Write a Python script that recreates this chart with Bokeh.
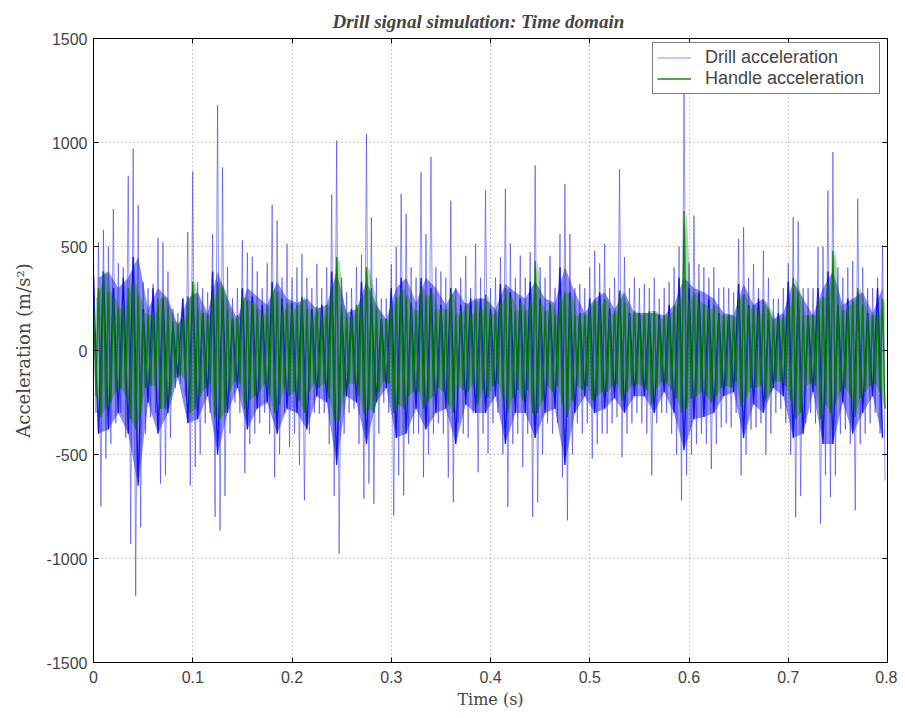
from bokeh.plotting import figure
from bokeh.models import LinearAxis, FixedTicker, Legend, LegendItem, Range1d
from bokeh.embed import file_html
from bokeh.resources import INLINE

# Envelope of each signal in 0.005 s bins (peak / trough)
drill_hi = [450, 520, 580, 500, 680, 420, 400, 840, 970, 700,
            330, 300, 320, 540, 520, 380, 200, 180, 250, 570,
            860, 330, 300, 280, 560, 1180, 880, 400, 250, 300,
            530, 470, 450, 380, 300, 420, 700, 625, 350, 513,
            350, 400, 465, 350, 300, 417, 300, 400, 750, 1010,
            350, 280, 300, 400, 460, 1042, 640, 350, 250, 250,
            415, 500, 753, 657, 400, 350, 857, 560, 930, 400,
            380, 350, 720, 300, 350, 455, 300, 513, 350, 770,
            300, 350, 450, 777, 515, 350, 457, 350, 473, 890,
            400, 350, 455, 300, 560, 800, 560, 300, 320, 300,
            400, 480, 420, 513, 300, 350, 873, 449, 300, 350,
            300, 320, 300, 350, 250, 300, 330, 400, 500, 1250,
            420, 649, 416, 400, 350, 400, 300, 304, 300, 280,
            537, 593, 350, 416, 300, 480, 350, 250, 250, 300,
            420, 641, 620, 300, 300, 300, 497, 500, 769, 954,
            400, 350, 400, 430, 729, 400, 300, 300, 350, 505]
drill_lo = [-300, -750, -520, -450, -350, -300, -420, -930, -1180, -850,
            -400, -320, -300, -640, -600, -420, -180, -160, -220, -650,
            -560, -500, -350, -300, -800, -865, -700, -400, -250, -300,
            -590, -450, -400, -350, -300, -400, -610, -500, -300, -465,
            -400, -550, -720, -400, -300, -304, -300, -450, -700, -977,
            -400, -300, -280, -450, -713, -640, -737, -400, -250, -300,
            -793, -600, -697, -450, -400, -400, -610, -500, -400, -350,
            -400, -610, -730, -350, -400, -420, -300, -585, -400, -497,
            -350, -300, -500, -753, -450, -400, -560, -400, -800, -730,
            -500, -350, -400, -350, -610, -817, -500, -350, -400, -350,
            -520, -450, -400, -400, -350, -320, -513, -400, -350, -300,
            -350, -400, -600, -350, -300, -300, -400, -500, -721, -600,
            -500, -450, -400, -450, -570, -450, -370, -350, -370, -300,
            -600, -500, -380, -370, -350, -500, -400, -300, -280, -350,
            -500, -801, -700, -350, -300, -350, -833, -600, -705, -600,
            -400, -380, -450, -769, -450, -400, -350, -300, -400, -625]
# Dense (dark) core of the drill signal, 0.01 s bins
drill_core_hi = [350, 380, 300, 350, 450, 200, 300, 250, 120, 250,
                 280, 180, 380, 250, 150, 300, 260, 220, 330, 250,
                 230, 250, 200, 220, 380, 180, 200, 330, 220, 150,
                 300, 350, 230, 350, 300, 220, 300, 220, 250, 250,
                 200, 320, 280, 250, 330, 250, 230, 400, 280, 180,
                 250, 280, 200, 280, 180, 180, 180, 170, 220, 350,
                 300, 280, 250, 180, 170, 320, 220, 250, 150, 180,
                 330, 250, 170, 300, 380, 220, 250, 280, 180, 300]
drill_core_lo = [-400, -380, -300, -400, -650, -250, -400, -300, -130, -350,
                 -330, -220, -500, -300, -180, -380, -280, -250, -400, -280,
                 -300, -380, -220, -250, -550, -220, -250, -450, -250, -180,
                 -420, -400, -280, -380, -300, -280, -450, -260, -300, -300,
                 -220, -450, -300, -300, -420, -300, -280, -550, -300, -220,
                 -300, -280, -230, -300, -220, -220, -300, -200, -300, -480,
                 -330, -320, -300, -220, -200, -420, -260, -300, -180, -220,
                 -420, -400, -200, -450, -450, -250, -400, -300, -220, -420]
handle_hi = [250, 300, 380, 280, 250, 200, 220, 300, 330, 260,
             180, 170, 180, 250, 260, 200, 140, 130, 150, 260,
             330, 200, 180, 170, 260, 330, 300, 200, 150, 170,
             260, 240, 230, 200, 170, 220, 300, 280, 190, 230,
             200, 220, 260, 200, 170, 210, 170, 220, 330, 450,
             220, 160, 170, 220, 270, 400, 300, 200, 150, 150,
             230, 260, 300, 260, 200, 190, 300, 260, 280, 200,
             200, 200, 280, 170, 190, 230, 170, 240, 190, 270,
             170, 190, 230, 300, 250, 190, 230, 190, 240, 430,
             220, 190, 230, 170, 260, 280, 260, 170, 180, 170,
             220, 240, 220, 250, 170, 190, 290, 230, 170, 190,
             170, 180, 190, 190, 150, 170, 180, 220, 260, 670,
             240, 280, 230, 220, 200, 220, 170, 170, 170, 160,
             260, 270, 200, 220, 170, 240, 200, 150, 150, 170,
             220, 350, 280, 170, 170, 170, 250, 260, 330, 480,
             220, 190, 220, 240, 300, 220, 170, 170, 190, 250]
handle_lo = [-220, -320, -280, -250, -200, -180, -220, -330, -380, -300,
             -180, -170, -170, -280, -280, -220, -130, -120, -140, -300,
             -280, -220, -180, -160, -320, -330, -300, -200, -150, -160,
             -280, -240, -220, -200, -160, -220, -300, -260, -180, -220,
             -200, -240, -300, -200, -160, -180, -160, -230, -330, -340,
             -220, -160, -160, -220, -300, -280, -300, -200, -150, -160,
             -300, -260, -280, -220, -200, -200, -280, -240, -220, -180,
             -200, -260, -300, -170, -190, -200, -160, -260, -190, -230,
             -170, -160, -230, -300, -230, -190, -240, -190, -300, -300,
             -240, -170, -200, -170, -260, -320, -240, -170, -190, -170,
             -240, -220, -200, -200, -170, -160, -240, -200, -170, -160,
             -170, -190, -260, -180, -150, -160, -190, -230, -300, -280,
             -230, -220, -200, -220, -250, -220, -180, -170, -180, -150,
             -270, -230, -180, -180, -170, -240, -200, -150, -150, -170,
             -240, -330, -300, -170, -160, -170, -330, -260, -300, -260,
             -200, -180, -220, -320, -230, -200, -170, -160, -200, -280]

t_end = 0.8
x_ticks = [0, 0.1, 0.2, 0.3, 0.4, 0.5, 0.6, 0.7, 0.8]
x_labels = ["0", "0.1", "0.2", "0.3", "0.4", "0.5", "0.6", "0.7", "0.8"]
y_ticks = [-1500, -1000, -500, 0, 500, 1000, 1500]
y_labels = ["-1500", "-1000", "-500", "0", "500", "1000", "1500"]


def zigzag(hi, lo):
    dt = t_end / len(hi)
    xs, ys = [], []
    for i, (a, b) in enumerate(zip(hi, lo)):
        xs += [i * dt, i * dt + dt / 2]
        ys += [a, b]
    return xs, ys


def centers(vals):
    dt = t_end / len(vals)
    return [(i + 0.5) * dt for i in range(len(vals))]


dx, dy = zigzag(drill_hi, drill_lo)
cx, cy = zigzag(drill_core_hi, drill_core_lo)
hx, hy = zigzag(handle_hi, handle_lo)

p = figure(frame_width=794, frame_height=624, output_backend="svg",
           toolbar_location=None, x_range=Range1d(0, 0.8),
           y_range=Range1d(-1500, 1500),
           min_border_left=93, min_border_right=10, min_border_top=38,
           min_border_bottom=50, background_fill_color="white",
           border_fill_color="white")

p.title.text = "Drill signal simulation: Time domain"
p.title.text_font = "Liberation Serif"
p.title.text_font_style = "bold italic"
p.title.text_font_size = "19px"
p.title.align = "left"
p.title.offset = 239
p.title.standoff = 13

p.varea(x=centers(drill_core_hi), y1=drill_core_lo, y2=drill_core_hi,
        fill_color="#0000e0", fill_alpha=0.45)
r1 = p.line(dx, dy, line_color="#2424e8", line_width=1, line_alpha=0.5)
p.line(cx, cy, line_color="#0000f0", line_width=1.4, line_alpha=0.85)
p.varea(x=centers(handle_hi), y1=handle_lo, y2=handle_hi,
        fill_color="#007500", fill_alpha=0.3)
r2 = p.line(hx, hy, line_color="#007a00", line_width=1.3, line_alpha=0.9)

for ax in p.xaxis:
    ax.ticker = FixedTicker(ticks=x_ticks)
    ax.major_label_overrides = dict(zip(x_ticks, x_labels))
for ax in p.yaxis:
    ax.ticker = FixedTicker(ticks=y_ticks)
    ax.major_label_overrides = dict(zip(y_ticks, y_labels))

p.xaxis.axis_label = "Time (s)"
p.yaxis.axis_label = "Acceleration (m/s²)"
for ax in list(p.xaxis) + list(p.yaxis):
    ax.axis_label_text_font = "DejaVu Serif"
    ax.axis_label_text_font_style = "normal"
    ax.major_label_text_font = "Liberation Sans"
    ax.major_label_text_font_size = "16px"
    ax.major_tick_in = 5
    ax.major_tick_out = 0
    ax.minor_tick_in = 0
    ax.minor_tick_out = 0
    ax.axis_line_color = "black"
    ax.major_tick_line_color = "black"
p.xaxis.axis_label_text_font_size = "16px"
p.yaxis.axis_label_text_font_size = "18px"
p.xaxis.major_label_standoff = 8
p.yaxis.major_label_standoff = 6
p.xaxis.axis_label_standoff = 4
p.yaxis.axis_label_standoff = 10

top = LinearAxis(ticker=FixedTicker(ticks=x_ticks), major_label_text_font_size="0px",
                 major_tick_in=5, major_tick_out=0, minor_tick_in=0, minor_tick_out=0)
right = LinearAxis(ticker=FixedTicker(ticks=y_ticks), major_label_text_font_size="0px",
                   major_tick_in=5, major_tick_out=0, minor_tick_in=0, minor_tick_out=0)
p.add_layout(top, "above")
p.add_layout(right, "right")

p.xgrid.ticker = FixedTicker(ticks=x_ticks)
p.ygrid.ticker = FixedTicker(ticks=y_ticks)
for g in (p.xgrid, p.ygrid):
    g.grid_line_color = "#999999"
    g.grid_line_dash = "1 3"
    g.grid_line_width = 1
p.outline_line_color = "black"

legend = Legend(items=[LegendItem(label="Drill acceleration", renderers=[r1]),
                       LegendItem(label="Handle acceleration", renderers=[r2])],
                location=(559, 568))
legend.label_text_font = "Liberation Sans"
legend.label_text_font_size = "18px"
legend.glyph_width = 34
legend.glyph_height = 21
legend.spacing = 0
legend.padding = 4
legend.margin = 0
legend.label_standoff = 14
legend.label_width = 170
legend.border_line_color = "black"
legend.border_line_width = 1
legend.background_fill_alpha = 1
p.add_layout(legend)

open("out.html", "w").write(file_html(p, INLINE))
